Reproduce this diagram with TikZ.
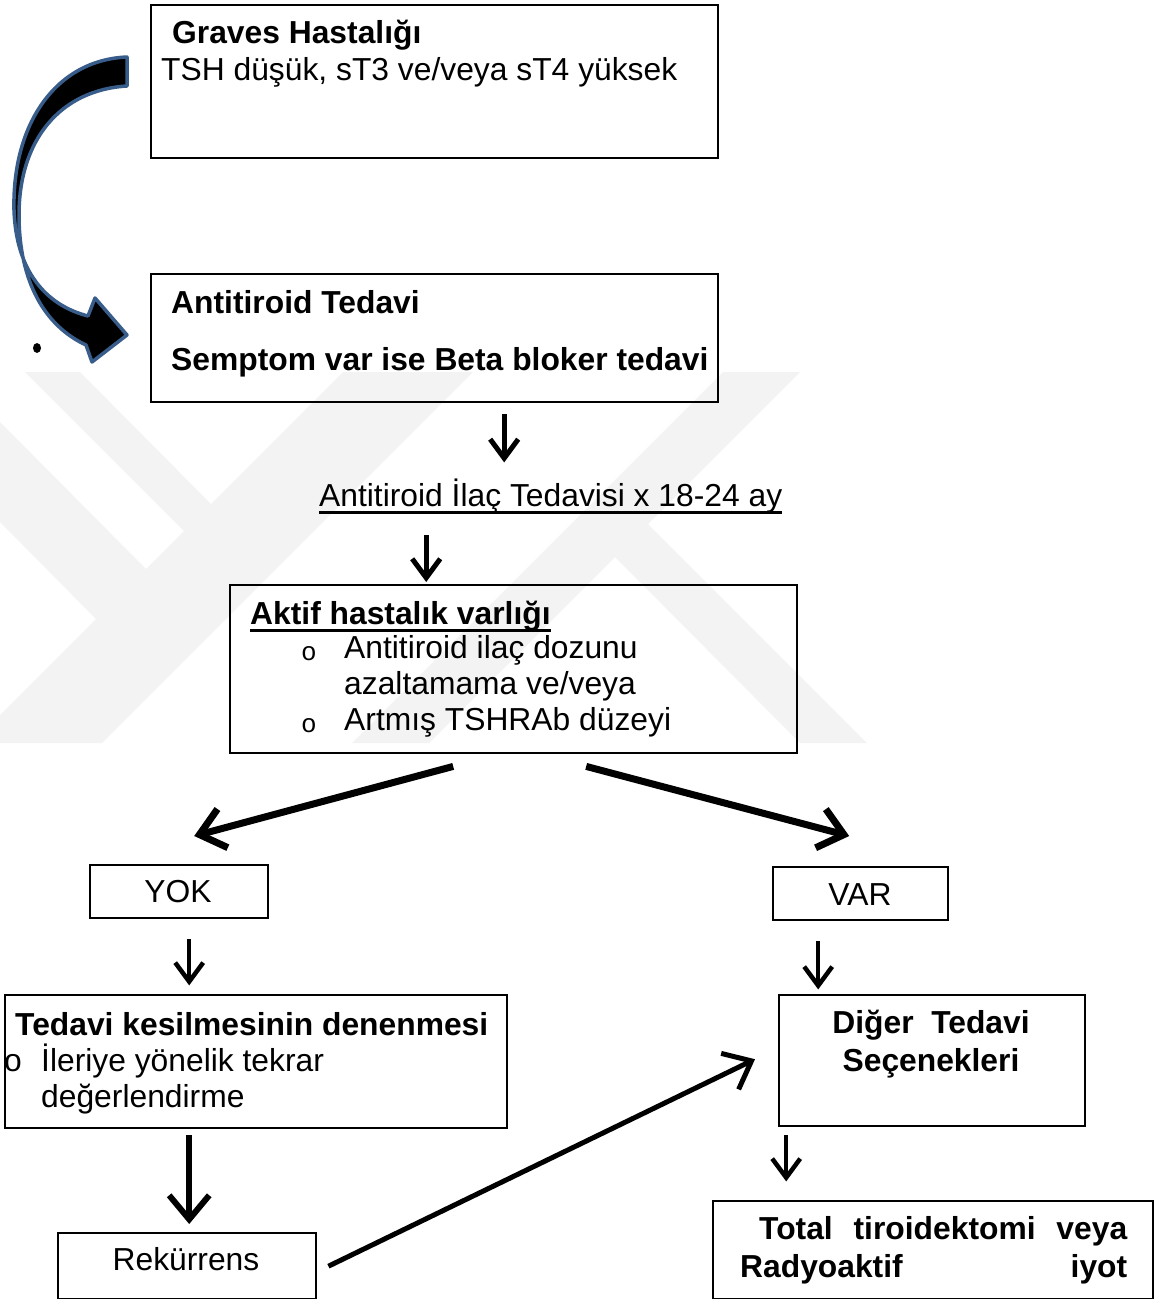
\documentclass[tikz,border=0pt]{standalone}
\usepackage{fontspec}
\setmainfont{Liberation Sans}
\newfontfamily\bulletfont{Liberation Mono}
\usetikzlibrary{arrows.meta}
\definecolor{arrowblue}{RGB}{56,93,138}
\definecolor{wmark}{RGB}{243,243,243}
% underline at a fixed depth, as the word processor does
\newcommand{\uln}[1]{\setbox0\hbox{#1}\rlap{\rule[-7.5pt]{\wd0}{3pt}}\box0}

\tikzset{
  box/.style={draw, line width=2.4pt, anchor=north west, inner sep=0pt},
  txt/.style={anchor=base west, inner sep=0pt, font=\fontsize{31.8}{38}\selectfont},
  btxt/.style={txt, font=\fontsize{31.8}{38}\selectfont\bfseries},
  big/.style={line width=7pt, >={Straight Barb[length=24pt,width=40pt]}}
}

\begin{document}
\begin{tikzpicture}[x=1pt, y=-1pt, >={Straight Barb[length=19pt,width=28pt]}]
\useasboundingbox (0,0) rectangle (1161,1299);

% watermark
\fill[wmark] (25,372) -- (80,372) -- (211,504) -- (184,531) -- cycle;
\fill[wmark] (343,372) -- (473,372) -- (102,743) -- (-28,743) -- cycle;
\fill[wmark] (0,422) -- (146,569) -- (96,619) -- (0,522) -- cycle;
\fill[wmark] (723,372) -- (800,372) -- (429,743) -- (352,743) -- cycle;
\fill[wmark] (615,557) -- (648,524) -- (867,743) -- (800,743) -- cycle;

% curved block arrow
\draw[line width=3.5pt, draw=arrowblue, fill=black, line join=round]
  (127,57) .. controls (55,60) and (12,125) .. (14,210)
  .. controls (16,270) and (45,305) .. (88,316)
  -- (95,298) -- (127,335) -- (92,362) -- (86,345)
  .. controls (45,326) and (19,282) .. (19,215)
  .. controls (19,140) and (60,90) .. (127,86) -- cycle;
\fill (37,348) ellipse (4pt and 5pt);

% boxes
\node[box, minimum width=567pt, minimum height=153pt] (graves) at (150,4) {};
\node[box, minimum width=567pt, minimum height=128pt] (tedavi) at (150,273) {};
\node[box, minimum width=567pt, minimum height=168pt] (aktif) at (229,584) {};
\node[box, minimum width=178pt, minimum height=53pt] (yok) at (89,864) {};
\node[box, minimum width=175pt, minimum height=53pt] (var) at (772,866) {};
\node[box, minimum width=502pt, minimum height=133pt] (kesme) at (4,994) {};
\node[box, minimum width=306pt, minimum height=131pt] (diger) at (778,994) {};
\node[box, minimum width=258pt, minimum height=66pt] (rekur) at (57,1232) {};
\node[box, minimum width=440pt, minimum height=98pt] (total) at (712,1200) {};

% texts
\node[btxt] (graves-t) at (172,43) {Graves Hastalığı};
\node[txt] (graves-s) at (161,80) {TSH düşük, sT3 ve/veya sT4 yüksek};
\node[btxt] (tedavi-t) at (171,313) {Antitiroid Tedavi};
\node[btxt] (tedavi-s) at (171,370) {Semptom var ise Beta bloker tedavi};
\node[txt] (ilac) at (319,506) {\uln{Antitiroid İlaç Tedavisi x 18-24 ay}};
\node[btxt] (aktif-t) at (250,624) {\uln{Aktif hastalık varlığı}};
\foreach \l [count=\i] in {{Antitiroid ilaç dozunu}, {azaltamama ve/veya}, {Artmış TSHRAb düzeyi}}
  \node[txt] (aktif-\i) at (344,622+\i*36) {\l};
\foreach \i in {1,3}
  \node[txt, font=\bulletfont\fontsize{26}{30}\selectfont] (bullet-\i) at (301,624+\i*36) {o};
\node[txt, anchor=base] (yok-t) at (178,902) {YOK};
\node[txt, anchor=base] (var-t) at (860,905) {VAR};
\node[btxt] (kesme-t) at (15,1035) {Tedavi kesilmesinin denenmesi};
\node[txt] (kesme-o) at (4,1071) {o};
\node[txt] (kesme-1) at (41,1071) {İleriye yönelik tekrar};
\node[txt] (kesme-2) at (41,1107) {değerlendirme};
\node[btxt, anchor=base] (diger-1) at (931,1033) {Diğer\ \ Tedavi};
\node[btxt, anchor=base] (diger-2) at (931,1071) {Seçenekleri};
\node[txt, anchor=base] (rekur-t) at (186,1270) {Rekürrens};
\node[btxt] (total-1) at (759,1239) {\makebox[368pt][s]{Total tiroidektomi veya}};
\node[btxt] (total-2) at (740,1277) {\makebox[387pt][s]{Radyoaktif iyot}};

% connectors
\draw [->, line width=5pt] ([shift={(69.5,11)}]tedavi.south) -- ++(0,48);
\draw [->, line width=5pt] ([shift={(-87.5,-49)}]aktif.north) -- ([shift={(-87.5,-2)}]aktif.north);
\draw [->, big] ([shift={(-60.5,12)}]aktif.south) -- ([shift={(15,-28)}]yok.north);
\draw [->, big] ([shift={(72.5,12)}]aktif.south) -- ([shift={(-11.5,-30)}]var.north);
\draw [->, line width=4.5pt] ([shift={(10,20)}]yok.south) -- ++(0,46);
\draw [->, line width=4.5pt] ([shift={(-42.5,20)}]var.south) -- ++(0,48);
\draw [->, big, line width=6pt] ([shift={(-67,6)}]kesme.south) -- ([shift={(2,-8)}]rekur.north);
\draw [->, big, line width=5pt] ([shift={(11,0)}]rekur.east) -- ([shift={(-23,-1.5)}]diger.west);
\draw [->, line width=4.5pt] ([shift={(-146,8)}]diger.south) -- ++(0,46);
\end{tikzpicture}
\end{document}
